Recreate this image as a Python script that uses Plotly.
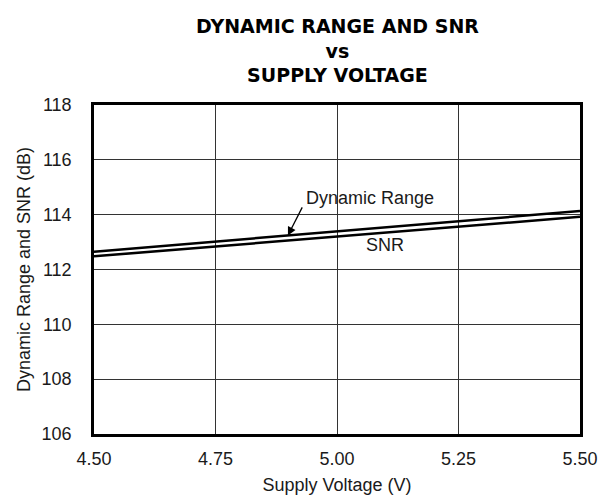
import plotly.graph_objects as go

voltage = [4.50, 5.50]
dynamic_range = [112.65, 114.13]
snr = [112.48, 113.92]
x_ticks = [4.50, 4.75, 5.00, 5.25, 5.50]
y_ticks = [106, 108, 110, 112, 114, 116, 118]
title_lines = ["DYNAMIC RANGE AND SNR", "vs", "SUPPLY VOLTAGE"]

font_family = "Liberation Sans, Arial, sans-serif"
title_family = "DejaVu Sans, sans-serif"
txt = "#1a1a1a"

fig = go.Figure()
fig.add_trace(go.Scatter(x=voltage, y=dynamic_range, mode="lines",
                         line=dict(color="black", width=2.5), name="Dynamic Range"))
fig.add_trace(go.Scatter(x=voltage, y=snr, mode="lines",
                         line=dict(color="black", width=2.5), name="SNR"))

fig.add_annotation(x=4.899, y=113.24, ax=4.930, ay=114.32, xref="x", yref="y",
                   axref="x", ayref="y", showarrow=True, arrowhead=2, arrowsize=1.3,
                   arrowwidth=1.3, arrowcolor="black", text="")
fig.add_annotation(x=4.932, y=114.62, text="Dynamic Range", showarrow=False,
                   xanchor="left", yanchor="middle",
                   font=dict(size=18, color=txt, family=font_family))
fig.add_annotation(x=5.098, y=112.88, text="SNR", showarrow=False,
                   xanchor="center", yanchor="middle",
                   font=dict(size=18, color=txt, family=font_family))

fig.add_annotation(x=0.5, y=1.0, xref="paper", yref="paper", yanchor="middle",
                   yshift=55, showarrow=False,
                   text="<b>" + "<br>".join(title_lines) + "</b>",
                   font=dict(size=19, color="black", family=title_family))

fig.update_xaxes(range=[4.5, 5.5], tickvals=x_ticks,
                 ticktext=[f"{v:.2f}" for v in x_ticks],
                 showgrid=True, gridcolor="#333", gridwidth=1,
                 showline=True, linecolor="black", linewidth=2.5, mirror=True,
                 ticks="", zeroline=False, ticklabelstandoff=7, automargin=False,
                 title=dict(text="Supply Voltage (V)", font=dict(size=18, color=txt, family=font_family), standoff=11),
                 tickfont=dict(size=18, color=txt, family=font_family))
fig.update_yaxes(range=[106, 118], tickvals=y_ticks,
                 showgrid=True, gridcolor="#333", gridwidth=1,
                 showline=True, linecolor="black", linewidth=2.5, mirror=True,
                 ticks="", zeroline=False, ticklabelstandoff=16, automargin=False,
                 title=dict(text="Dynamic Range and SNR (dB)", font=dict(size=18, color=txt, family=font_family), standoff=7),
                 tickfont=dict(size=18, color=txt, family=font_family))

fig.update_layout(width=602, height=500, showlegend=False,
                  plot_bgcolor="white", paper_bgcolor="white",
                  margin=dict(l=94, r=22, t=105, b=66, autoexpand=False),
                  font=dict(family=font_family))

fig.write_html("out.html", config={"displayModeBar": False},
               post_script="document.body.style.margin='0';document.body.style.overflow='hidden';")
